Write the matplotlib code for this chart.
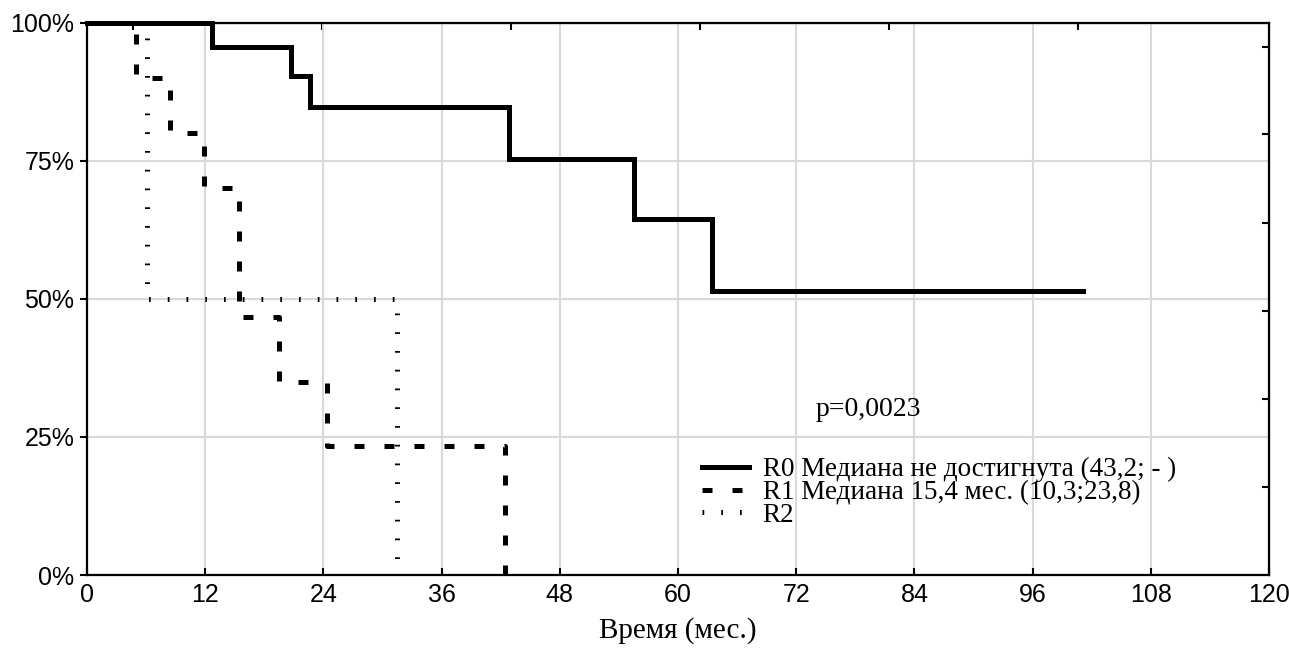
import matplotlib

matplotlib.use("Agg")
import matplotlib.pyplot as plt
from matplotlib.ticker import FuncFormatter

# Kaplan-Meier steps (months, % surviving)
r0_time = [0, 12.7, 20.7, 22.6, 42.8, 55.5, 63.5, 101.1]
r0_surv = [100, 95.7, 90.4, 84.7, 75.3, 64.5, 51.5, 51.5]

r1_time = [0, 5.0, 8.4, 11.9, 15.4, 19.5, 24.4, 42.4]
r1_surv = [100, 90, 80, 70, 46.7, 35, 23.3, 0]

r2_time = [0, 6.1, 31.5]
r2_surv = [100, 50, 0]

labels = [
    "R0 Медиана не достигнута (43,2; - )",
    "R1 Медиана 15,4 мес. (10,3;23,8)",
    "R2",
]
x_ticks = list(range(0, 121, 12))
y_ticks = [0, 25, 50, 75, 100]
# unlabeled ticks on the top / right frame
top_ticks = [4.67, 23.86, 43.05, 62.23, 81.42, 100.6]
right_ticks = [15.9, 31.9, 47.8, 63.8, 79.8, 95.7]

SANS = "Liberation Sans"
SERIF = "Liberation Serif"

fig = plt.figure(figsize=(12.89, 6.64), dpi=100)
ax = fig.add_axes([0.0675, 0.134, 0.917, 0.8316])

lw = 3.6
ax.step(r2_time, r2_surv, where="post", color="black", lw=lw,
        ls=(0, (0.35, 3.4)), dash_capstyle="butt", clip_on=False,
        zorder=3, label=labels[2])
ax.step(r1_time, r1_surv, where="post", color="black", lw=lw,
        ls=(0, (2.0, 4.0)), dash_capstyle="butt", clip_on=False,
        zorder=4, label=labels[1])
ax.step(r0_time, r0_surv, where="post", color="black", lw=lw,
        solid_joinstyle="miter", clip_on=False, zorder=5, label=labels[0])

ax.set_xlim(0, 120)
ax.set_ylim(0, 100)
ax.set_xticks(x_ticks)
ax.set_yticks(y_ticks)
ax.yaxis.set_major_formatter(FuncFormatter(lambda v, _: f"{v:.0f}%"))
ax.grid(True, color="#d9d9d9", lw=1.5, zorder=0)
ax.set_axisbelow(True)
for s in ax.spines.values():
    s.set_linewidth(1.6)
    s.set_color("black")

ax.tick_params(axis="x", direction="in", length=5, width=1.5, pad=6,
               labelsize=18)
ax.tick_params(axis="y", direction="out", length=5, width=1.5, pad=4,
               labelsize=18)
for t in ax.get_xticklabels() + ax.get_yticklabels():
    t.set_fontfamily(SANS)

top = ax.secondary_xaxis("top")
top.set_xticks(top_ticks)
top.set_xticklabels([])
top.tick_params(direction="in", length=5, width=1.5)
right = ax.secondary_yaxis("right")
right.set_yticks(right_ticks)
right.set_yticklabels([])
right.tick_params(direction="in", length=5, width=1.5)

ax.set_xlabel("Время (мес.)", family=SERIF, fontsize=21, labelpad=7)

ax.text(0.616, 0.30, "p=0,0023", transform=ax.transAxes, family=SERIF,
        fontsize=20, va="center", ha="left")

handles, _ = ax.get_legend_handles_labels()
leg = ax.legend(handles[::-1], labels, loc="upper left",
                bbox_to_anchor=(0.504, 0.248), frameon=False,
                prop={"family": SERIF, "size": 19.5}, handlelength=1.75,
                handletextpad=0.5, labelspacing=-0.08, borderpad=0.2)

fig.savefig("out.png", dpi=100)
